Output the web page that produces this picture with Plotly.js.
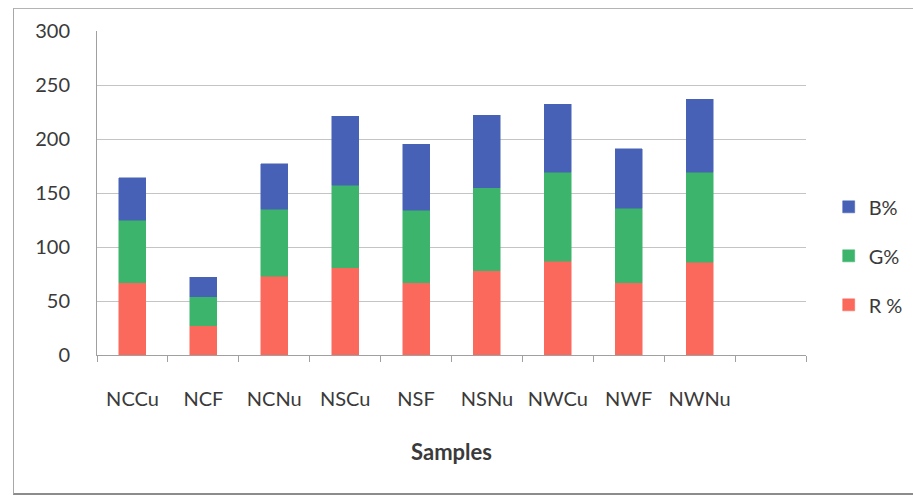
<!DOCTYPE html>
<html>
<head>
<meta charset="utf-8">
<script src="https://cdn.plot.ly/plotly-3.0.1.min.js"></script>
<style>
  html, body { margin: 0; padding: 0; background: #ffffff; }
  #wrap { position: relative; width: 913px; height: 497px; overflow: hidden; }
  #frame {
    position: absolute; left: 13px; top: 8px; width: 930px; height: 484px;
    border-left: 1px solid #a8a8a8; border-top: 1px solid #b4b4b4;
    border-bottom: 2px solid #8c8c8c; pointer-events: none; z-index: 2;
  }
  #chart { position: absolute; left: 0; top: 0; width: 913px; height: 497px; }
</style>
</head>
<body>
<div id="wrap">
  <div id="chart"></div>
  <div id="frame"></div>
</div>
<script>
// Sample names along the category axis
const samples = ['NCCu', 'NCF', 'NCNu', 'NSCu', 'NSF', 'NSNu', 'NWCu', 'NWF', 'NWNu'];
// Axis slots: the samples plus one empty slot at the right end
const axisSlots = samples.concat([' ']);

// Stacked colour components per sample
const rPct = [67, 27, 73, 81, 67, 78, 87, 67, 86];
const gPct = [58, 27, 62, 76, 67, 77, 82, 69, 83];
const bPct = [39, 18, 42, 64, 61, 67, 63, 55, 68];

// Value axis ticks
const yTicks = [0, 50, 100, 150, 200, 250, 300];

const textColor = '#3a3a3a';
const font = 'Lato, "Open Sans", sans-serif';

function series(name, values, color, group, rank) {
  return {
    type: 'bar',
    name: name,
    x: samples,
    y: values,
    legendgroup: group,
    legendrank: rank,
    marker: { color: color, line: { color: color, width: 0.5 } },
    hoverinfo: 'x+y+name'
  };
}

// Stacked bottom to top: R, G, B; legend lists B first
const traces = [
  series('R %', rPct, '#fb695d', 'r', 3),
  series('G%', gPct, '#3db46b', 'g', 2),
  series('B%', bPct, '#4661b5', 'b', 1)
];

const layout = {
  width: 913,
  height: 497,
  barmode: 'stack',
  bargap: 0.62,
  paper_bgcolor: '#ffffff',
  plot_bgcolor: '#ffffff',
  font: { family: font, size: 20, color: textColor },
  margin: { l: 97, r: 107, t: 31, b: 142, autoexpand: false },
  showlegend: true,
  legend: {
    x: 1.032, xanchor: 'left',
    y: 0.306, yanchor: 'middle',
    traceorder: 'grouped',
    tracegroupgap: 20,
    font: { family: font, size: 20, color: textColor },
    bgcolor: 'rgba(0,0,0,0)'
  },
  xaxis: {
    type: 'category',
    categoryorder: 'array',
    categoryarray: axisSlots,
    range: [-0.5, axisSlots.length - 0.5],
    showgrid: false,
    showline: true,
    linecolor: '#a0a0a0',
    linewidth: 1,
    ticks: 'outside',
    tickson: 'boundaries',
    ticklen: 6,
    tickcolor: '#a0a0a0',
    tickangle: 0,
    ticklabelstandoff: 26,
    tickfont: { family: font, size: 20, color: textColor },
    title: {
      text: '<b>Samples</b>',
      font: { family: font, size: 22, color: textColor },
      standoff: 35
    },
    automargin: false,
    fixedrange: true
  },
  yaxis: {
    range: [0, 300],
    tickvals: yTicks,
    ticktext: yTicks.map(String),
    showgrid: true,
    gridcolor: '#c4c4c4',
    gridwidth: 1,
    showline: true,
    linecolor: '#a0a0a0',
    linewidth: 1,
    zeroline: false,
    ticks: '',
    ticklabelstandoff: 22,
    tickfont: { family: font, size: 20, color: textColor },
    automargin: false,
    fixedrange: true
  }
};

Plotly.newPlot('chart', traces, layout, { displayModeBar: false, staticPlot: true });
</script>
</body>
</html>
